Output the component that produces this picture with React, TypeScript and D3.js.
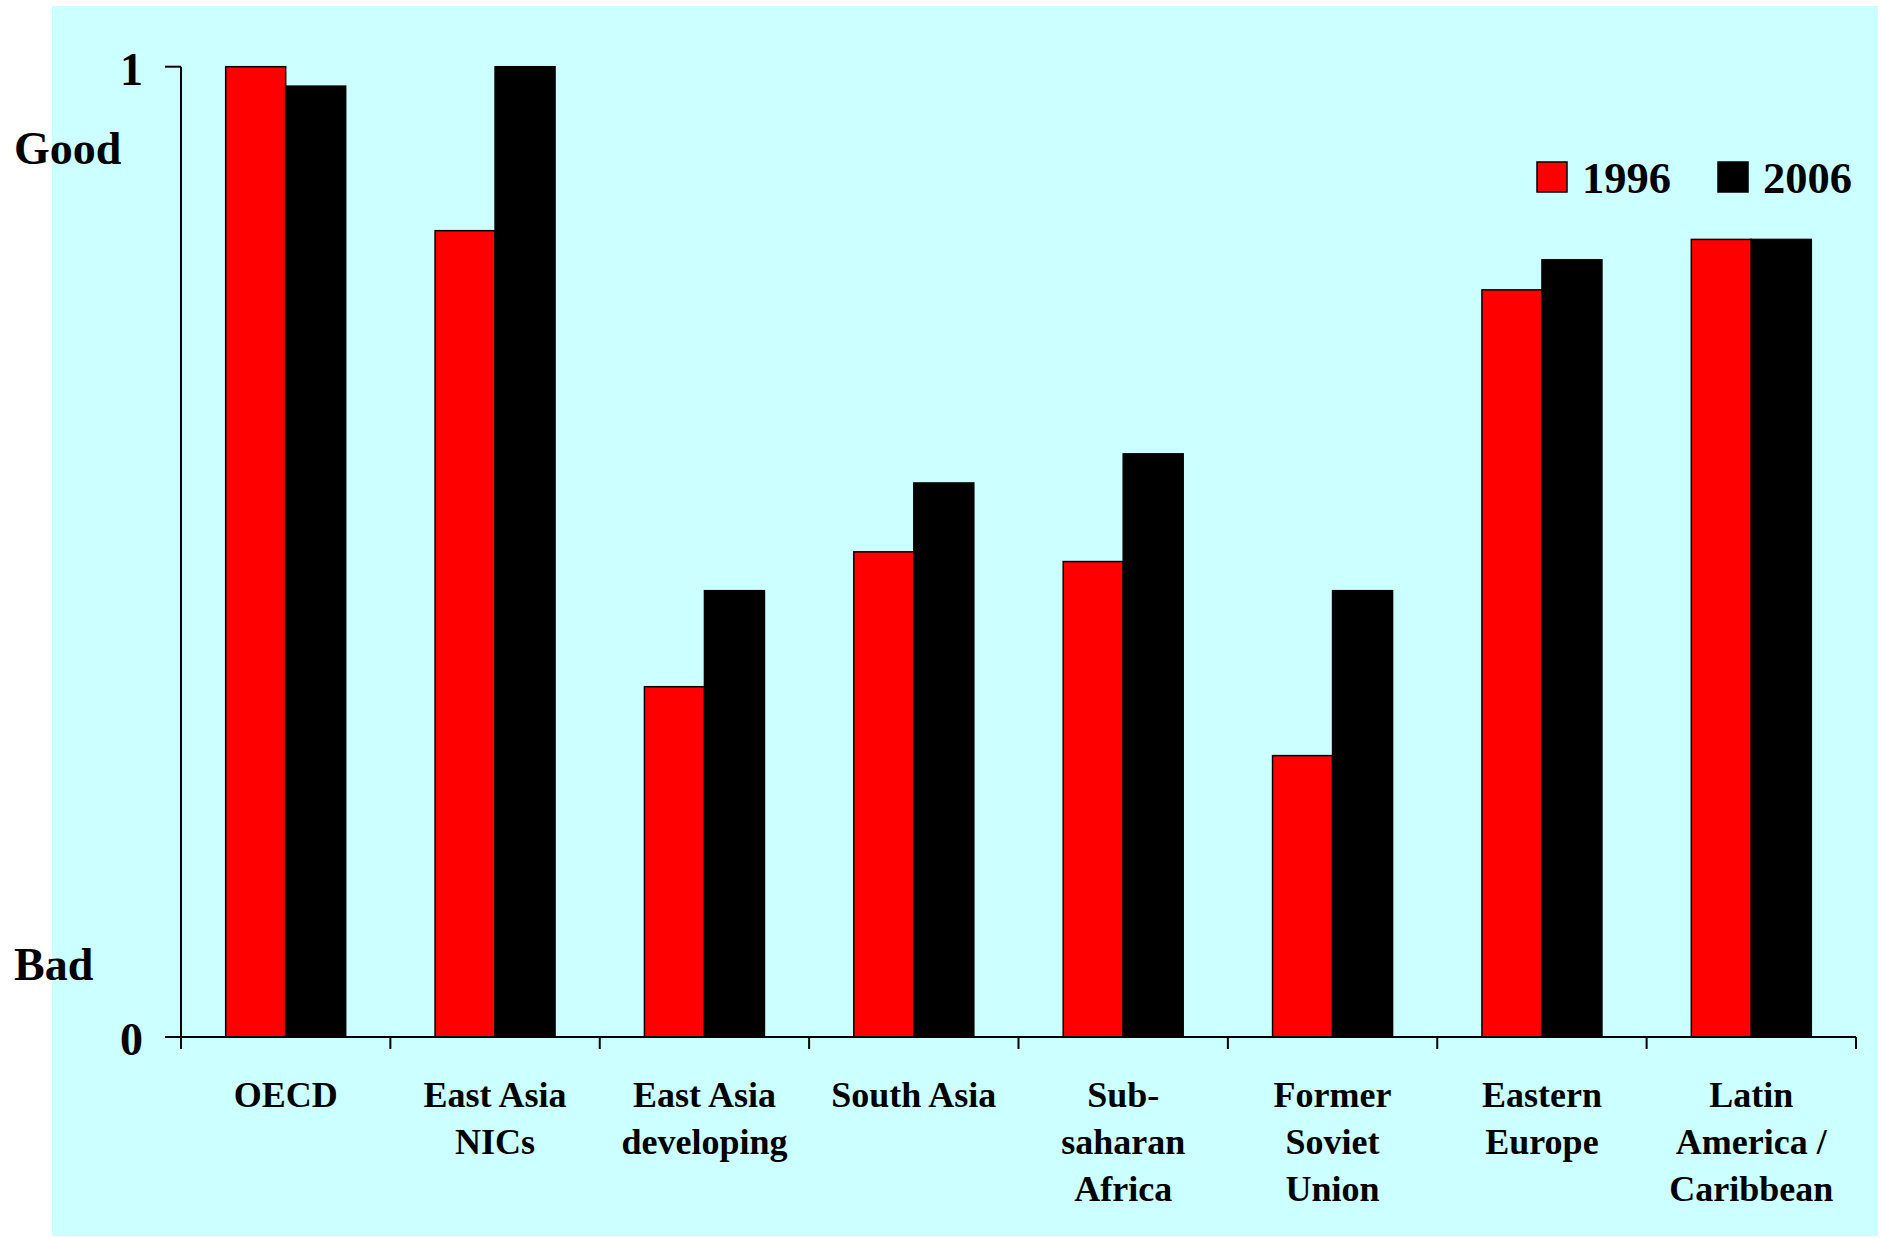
import React from "react";
import * as d3 from "d3";

const categories = [
  "OECD",
  "East Asia NICs",
  "East Asia developing",
  "South Asia",
  "Sub-saharan Africa",
  "Former Soviet Union",
  "Eastern Europe",
  "Latin America / Caribbean",
];
const categoryLines = [
  ["OECD"],
  ["East Asia", "NICs"],
  ["East Asia", "developing"],
  ["South Asia"],
  ["Sub-", "saharan", "Africa"],
  ["Former", "Soviet", "Union"],
  ["Eastern", "Europe"],
  ["Latin", "America /", "Caribbean"],
];
const seriesNames = ["1996", "2006"];
const values1996 = [1.0, 0.831, 0.361, 0.5, 0.49, 0.29, 0.77, 0.822];
const values2006 = [0.98, 1.0, 0.46, 0.571, 0.601, 0.46, 0.801, 0.822];
const seriesColors = ["#FF0000", "#000000"];
const yTickValues = [0, 1];

const W = 1881;
const H = 1238;
const FONT = "'Liberation Serif', 'Times New Roman', Times, serif";

export default function App() {
  const left = 181;
  const right = 1856;
  const y0 = 1037;
  const y1 = 66.7;

  const x = d3.scaleBand<string>().domain(categories).range([left, right]).padding(0);
  const xs = d3
    .scaleBand<string>()
    .domain(seriesNames)
    .range([0, x.bandwidth()])
    .paddingInner(0)
    .paddingOuter(0.745);
  const y = d3.scaleLinear().domain([0, 1]).range([y0, y1]);

  const seriesValues = [values1996, values2006];
  const boundaries = categories.map((c) => x(c) as number).concat([right]);

  return (
    <svg
      width={W}
      height={H}
      style={{ position: "absolute", left: 0, top: 0, display: "block" }}
      fontFamily={FONT}
    >
      <rect x={0} y={0} width={W} height={H} fill="#ffffff" />
      <rect x={52} y={6} width={1826} height={1230} fill="#CCFFFF" />

      {/* bars */}
      {categories.map((c, i) => (
        <g key={c}>
          {seriesNames.map((s, j) => {
            const v = seriesValues[j][i];
            const bx = (x(c) as number) + (xs(s) as number);
            return (
              <rect
                key={s}
                x={bx}
                y={y(v)}
                width={xs.bandwidth()}
                height={y(0) - y(v)}
                fill={seriesColors[j]}
                stroke="#000"
                strokeWidth={1.5}
              />
            );
          })}
        </g>
      ))}

      {/* y axis */}
      <line x1={left} x2={left} y1={y(1)} y2={y(0)} stroke="#000" strokeWidth={2} />
      {yTickValues.map((t) => (
        <g key={t}>
          <line x1={left - 16} x2={left} y1={y(t)} y2={y(t)} stroke="#000" strokeWidth={2} />
          <text
            x={143}
            y={y(t) + 18}
            textAnchor="end"
            fontSize={46}
            fontWeight="bold"
          >
            {t}
          </text>
        </g>
      ))}

      {/* x axis */}
      <line x1={left - 16} x2={right} y1={y(0)} y2={y(0)} stroke="#000" strokeWidth={2} />
      {boundaries.map((bx, i) => (
        <line key={i} x1={bx} x2={bx} y1={y(0)} y2={y(0) + 12} stroke="#000" strokeWidth={2} />
      ))}
      {categories.map((c, i) => (
        <text
          key={c}
          x={(x(c) as number) + x.bandwidth() / 2}
          y={1107}
          textAnchor="middle"
          fontSize={36}
          fontWeight="bold"
        >
          {categoryLines[i].map((ln, k) => (
            <tspan key={k} x={(x(c) as number) + x.bandwidth() / 2} dy={k === 0 ? 0 : 47}>
              {ln}
            </tspan>
          ))}
        </text>
      ))}

      {/* Good / Bad */}
      <text x={14} y={164} fontSize={46} fontWeight="bold">
        Good
      </text>
      <text x={14} y={980} fontSize={46} fontWeight="bold">
        Bad
      </text>

      {/* legend */}
      {seriesNames.map((s, j) => {
        const lx = j === 0 ? 1537 : 1718;
        return (
          <g key={s}>
            <rect x={lx} y={162} width={30} height={30} fill={seriesColors[j]} stroke="#000" strokeWidth={1.5} />
            <text x={lx + 45} y={193} fontSize={44.5} fontWeight="bold">
              {s}
            </text>
          </g>
        );
      })}
    </svg>
  );
}
